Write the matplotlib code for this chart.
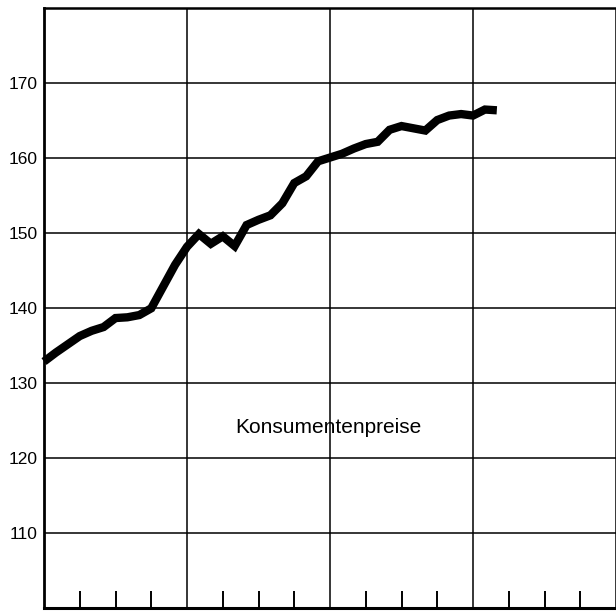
import numpy as np
import matplotlib.pyplot as plt

# monthly consumer price index
cpi = [132.9, 134.1, 135.2, 136.3, 137.0, 137.5, 138.7, 138.8, 139.1, 140.0,
       142.9, 145.8, 148.2, 149.9, 148.6, 149.6, 148.3, 151.1, 151.8, 152.4,
       154.0, 156.7, 157.6, 159.6, 160.1, 160.6, 161.3, 161.9, 162.2, 163.8,
       164.3, 164.0, 163.7, 165.1, 165.7, 165.9, 165.7, 166.5, 166.4]
y_ticks = [110, 120, 130, 140, 150, 160, 170]
year_lines = [0, 12, 24, 36, 48]
quarter_ticks = [3, 6, 9, 15, 18, 21, 27, 30, 33, 39, 42, 45]
label = 'Konsumentenpreise'

plt.rcParams['font.family'] = ['Liberation Sans', 'DejaVu Sans']

fig = plt.figure(figsize=(6.16, 6.13), dpi=100)
ax = fig.add_axes([44 / 616, 4.7 / 613, 572 / 616, 600 / 613])

months = np.arange(len(cpi))
ax.plot(months, cpi, color='black', lw=6.0, solid_capstyle='butt',
        solid_joinstyle='miter', zorder=3, clip_on=False)

# one year is about 144.5 px wide in the original
ax.set_xlim(0, 572 / 144.5 * 12)
ax.set_ylim(100, 180)

ax.set_xticks(year_lines)
ax.set_xticks(quarter_ticks, minor=True)
ax.set_xticklabels([])
ax.set_yticks(y_ticks)
ax.set_yticklabels([str(v) for v in y_ticks], fontsize=12.5)

ax.tick_params(axis='x', which='major', length=0)
ax.tick_params(axis='x', which='minor', direction='in', length=12,
               width=1.4, color='black')
ax.tick_params(axis='y', length=0, pad=4.5)

ax.grid(True, which='major', color='black', lw=1.1)
ax.set_axisbelow(True)

ax.spines['right'].set_visible(False)
ax.spines['left'].set_linewidth(2.0)
ax.spines['bottom'].set_linewidth(2.2)
ax.spines['top'].set_linewidth(1.8)

ax.text(23.9, 123.33, label, ha='center', va='baseline', fontsize=15)

fig.savefig('out.png', dpi=100)
